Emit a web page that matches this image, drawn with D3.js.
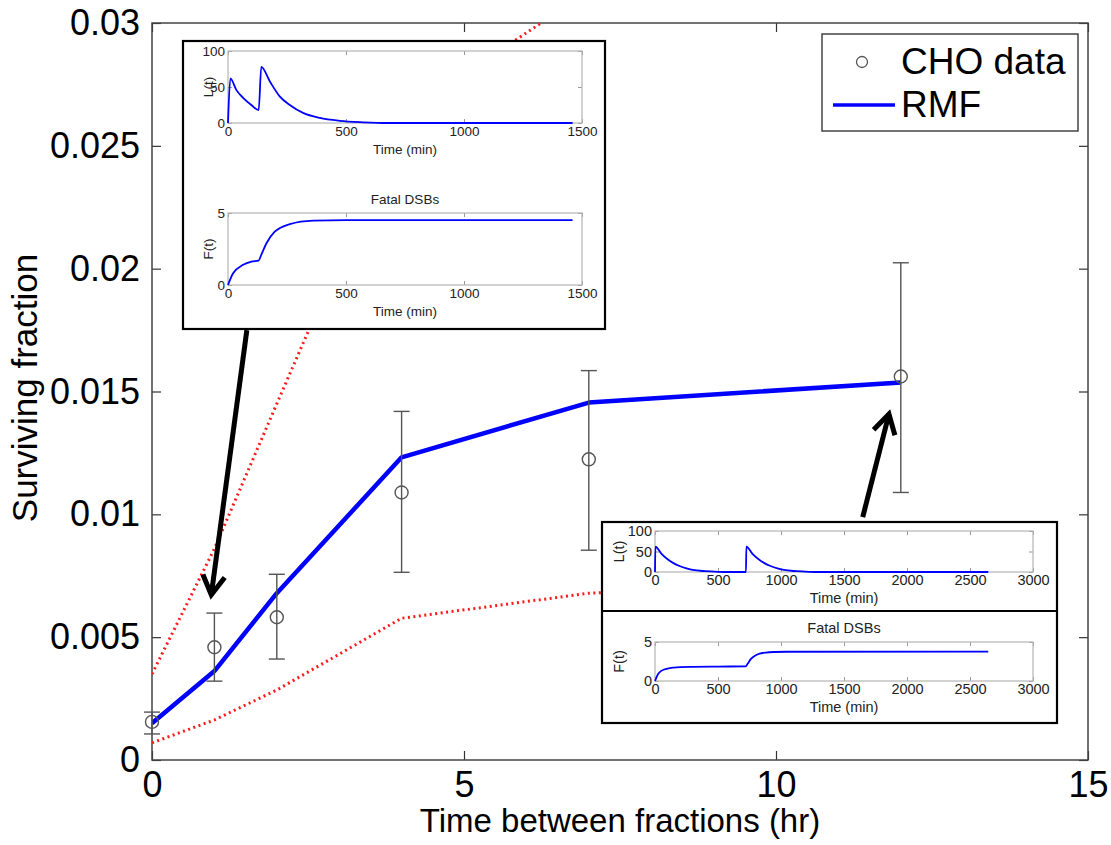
<!DOCTYPE html>
<html>
<head>
<meta charset="utf-8">
<script src="https://cdn.jsdelivr.net/npm/d3@7/dist/d3.min.js"></script>
<style>
  body { margin: 0; background: #fff; }
  svg { display: block; font-family: "Liberation Sans", Arial, Helvetica, sans-serif; }
</style>
</head>
<body>
<div id="chart"></div>
<script>
// main panel data
const hours = [0, 1, 2, 4, 7, 12];
const choSurv = [0.00155, 0.00459, 0.00581, 0.01089, 0.01224, 0.01561];
const choErrLo = [0.00106, 0.00321, 0.00411, 0.00764, 0.00854, 0.01089];
const choErrHi = [0.00195, 0.00598, 0.00756, 0.01419, 0.01585, 0.02024];
const rmf = [0.0015, 0.00362, 0.00679, 0.01232, 0.01455, 0.01537];
const rmfUpper = [0.0035, 0.0086, 0.0145, 0.0262, 0.0313, 0.034];
const rmfLower = [0.0007, 0.00163, 0.00285, 0.00577, 0.00679, 0.0072];

const xTicks = [0, 5, 10, 15];
const yTicks = [0, 0.005, 0.01, 0.015, 0.02, 0.025, 0.03];
const yTickLabels = ['0', '0.005', '0.01', '0.015', '0.02', '0.025', '0.03'];

// inset 1: fractions 2 hr apart
const inset1Time = [0, 10, 35, 64, 99, 130, 141, 177, 219, 262, 318, 389, 474, 573, 680, 1460];
const inset1L = [0, 62, 46, 35, 25, 18, 78, 58, 37, 25, 14, 7, 3, 1, 0, 0];
const inset1FTime = [0, 21, 64, 99, 130, 141, 163, 198, 262, 361, 502, 1460];
const inset1F = [0, 0.8, 1.4, 1.63, 1.7, 2.1, 2.9, 3.7, 4.23, 4.47, 4.51, 4.51];

// inset 2: fractions 12 hr apart
const inset2Time = [0, 3, 50, 100, 150, 200, 250, 300, 400, 500, 600, 722, 725, 772, 822, 872, 922, 972, 1022, 1122, 1222, 1322, 2645];
const inset2L = [0, 62, 45, 31, 21, 14, 9, 5, 2, 0.5, 0, 0, 62, 45, 31, 21, 14, 9, 5, 2, 0.5, 0, 0];
const inset2FTime = [0, 25, 50, 100, 150, 200, 300, 500, 720, 735, 760, 790, 830, 880, 950, 1050, 2645];
const inset2F = [0, 0.9, 1.3, 1.6, 1.72, 1.78, 1.82, 1.85, 1.87, 2.2, 2.8, 3.2, 3.5, 3.65, 3.72, 3.75, 3.77];

// arrows, in data coordinates [hours, fraction]
const arrowSmall = [[1.52, 0.0175], [0.95, 0.00672]];
const arrowLarge = [[11.39, 0.00989], [11.81, 0.01408]];

const width = 1111;
const height = 845;
const plot = { left: 152, right: 1088, top: 23, bottom: 760 };

const svg = d3.select('#chart')
  .append('svg')
  .attr('width', width)
  .attr('height', height);

const x = d3.scaleLinear().domain([0, 15]).range([plot.left, plot.right]);
const y = d3.scaleLinear().domain([0, 0.03]).range([plot.bottom, plot.top]);

svg.append('clipPath')
  .attr('id', 'plot-clip')
  .append('rect')
  .attr('x', plot.left)
  .attr('y', plot.top)
  .attr('width', plot.right - plot.left)
  .attr('height', plot.bottom - plot.top);

function styleAxis(g, size) {
  g.select('.domain').remove();
  g.selectAll('.tick line').attr('stroke', '#333').attr('stroke-width', 1.2);
  g.selectAll('.tick text')
    .attr('fill', '#000')
    .attr('font-size', size)
    .attr('font-family', '"Liberation Sans", Arial, sans-serif');
}

// axes with inward ticks on all four sides
svg.append('g')
  .attr('transform', `translate(0, ${plot.bottom})`)
  .call(d3.axisBottom(x).tickValues(xTicks).tickSizeInner(-9).tickSizeOuter(0).tickPadding(11))
  .call(g => styleAxis(g, 36));

svg.append('g')
  .attr('transform', `translate(0, ${plot.top})`)
  .call(d3.axisTop(x).tickValues(xTicks).tickSizeInner(-9).tickSizeOuter(0).tickFormat(() => ''))
  .call(g => styleAxis(g, 36));

svg.append('g')
  .attr('transform', `translate(${plot.left}, 0)`)
  .call(d3.axisLeft(y).tickValues(yTicks).tickSizeInner(-9).tickSizeOuter(0).tickPadding(12)
    .tickFormat((d, i) => yTickLabels[i]))
  .call(g => styleAxis(g, 36));

svg.append('g')
  .attr('transform', `translate(${plot.right}, 0)`)
  .call(d3.axisRight(y).tickValues(yTicks).tickSizeInner(-9).tickSizeOuter(0).tickFormat(() => ''))
  .call(g => styleAxis(g, 36));

svg.append('rect')
  .attr('x', plot.left)
  .attr('y', plot.top)
  .attr('width', plot.right - plot.left)
  .attr('height', plot.bottom - plot.top)
  .attr('fill', 'none')
  .attr('stroke', '#444')
  .attr('stroke-width', 1.5);

svg.append('text')
  .attr('x', (plot.left + plot.right) / 2)
  .attr('y', 832)
  .attr('text-anchor', 'middle')
  .attr('font-size', 33)
  .text('Time between fractions (hr)');

svg.append('text')
  .attr('transform', 'translate(37, 388) rotate(-90)')
  .attr('text-anchor', 'middle')
  .attr('font-size', 35)
  .text('Surviving fraction');

// model band and fit
const line = d3.line()
  .x((d, i) => x(hours[i]))
  .y(d => y(d));

const plotArea = svg.append('g').attr('clip-path', 'url(#plot-clip)');

[rmfUpper, rmfLower].forEach(series => {
  plotArea.append('path')
    .datum(series)
    .attr('d', line)
    .attr('fill', 'none')
    .attr('stroke', '#ff1a1a')
    .attr('stroke-width', 3)
    .attr('stroke-dasharray', '2,3.5');
});

plotArea.append('path')
  .datum(rmf)
  .attr('d', line)
  .attr('fill', 'none')
  .attr('stroke', '#0000ff')
  .attr('stroke-width', 4.5)
  .attr('stroke-linejoin', 'round');

// CHO data with error bars
const bars = svg.append('g')
  .attr('stroke', '#555')
  .attr('stroke-width', 1.4)
  .attr('fill', 'none');

hours.forEach((h, i) => {
  const cx = x(h);
  bars.append('line').attr('x1', cx).attr('x2', cx).attr('y1', y(choErrLo[i])).attr('y2', y(choErrHi[i]));
  bars.append('line').attr('x1', cx - 8).attr('x2', cx + 8).attr('y1', y(choErrLo[i])).attr('y2', y(choErrLo[i]));
  bars.append('line').attr('x1', cx - 8).attr('x2', cx + 8).attr('y1', y(choErrHi[i])).attr('y2', y(choErrHi[i]));
  bars.append('circle').attr('cx', cx).attr('cy', y(choSurv[i])).attr('r', 6.5);
});

// insets
function drawInset(box, separator, panels) {
  const g = svg.append('g');
  g.append('rect')
    .attr('x', box.x0).attr('y', box.y0)
    .attr('width', box.x1 - box.x0).attr('height', box.y1 - box.y0)
    .attr('fill', '#fff')
    .attr('stroke', '#000')
    .attr('stroke-width', 2.2);
  if (separator) {
    g.append('line')
      .attr('x1', box.x0).attr('x2', box.x1)
      .attr('y1', separator).attr('y2', separator)
      .attr('stroke', '#000').attr('stroke-width', 2.2);
  }

  panels.forEach(p => {
    const sx = d3.scaleLinear().domain(p.xDomain).range([p.x0, p.x1]);
    const sy = d3.scaleLinear().domain(p.yDomain).range([p.y1, p.y0]);
    const fmt = d3.format('d');
    const inStyle = a => {
      a.select('.domain').remove();
      a.selectAll('.tick line').attr('stroke', '#999');
      a.selectAll('.tick text')
        .attr('fill', '#222')
        .attr('font-size', p.fontSize)
        .attr('font-family', '"Liberation Sans", Arial, sans-serif');
    };

    g.append('g').attr('transform', `translate(0, ${p.y1})`)
      .call(d3.axisBottom(sx).tickValues(p.xTicks).tickFormat(fmt).tickSizeInner(-4).tickSizeOuter(0).tickPadding(3))
      .call(inStyle);
    g.append('g').attr('transform', `translate(0, ${p.y0})`)
      .call(d3.axisTop(sx).tickValues(p.xTicks).tickSizeInner(-4).tickSizeOuter(0).tickFormat(() => ''))
      .call(inStyle);
    g.append('g').attr('transform', `translate(${p.x0}, 0)`)
      .call(d3.axisLeft(sy).tickValues(p.yTicks).tickFormat(fmt).tickSizeInner(-4).tickSizeOuter(0).tickPadding(3))
      .call(inStyle);
    g.append('g').attr('transform', `translate(${p.x1}, 0)`)
      .call(d3.axisRight(sy).tickValues(p.yTicks).tickSizeInner(-4).tickSizeOuter(0).tickFormat(() => ''))
      .call(inStyle);

    g.append('rect')
      .attr('x', p.x0).attr('y', p.y0)
      .attr('width', p.x1 - p.x0).attr('height', p.y1 - p.y0)
      .attr('fill', 'none')
      .attr('stroke', '#b5b5b5')
      .attr('stroke-width', 1.2);

    g.append('path')
      .datum(p.values)
      .attr('d', d3.line()
        .curve(d3.curveMonotoneX)
        .x((d, i) => sx(p.time[i]))
        .y(d => sy(d)))
      .attr('fill', 'none')
      .attr('stroke', '#0000ff')
      .attr('stroke-width', 1.8);

    g.append('text')
      .attr('x', (p.x0 + p.x1) / 2)
      .attr('y', p.y1 + p.xLabelOffset)
      .attr('text-anchor', 'middle')
      .attr('font-size', p.fontSize)
      .attr('fill', '#222')
      .text('Time (min)');

    g.append('text')
      .attr('transform', `translate(${p.yLabelX}, ${(p.y0 + p.y1) / 2}) rotate(-90)`)
      .attr('text-anchor', 'middle')
      .attr('dy', '0.35em')
      .attr('font-size', p.fontSize)
      .attr('fill', '#222')
      .text(p.yLabel);

    if (p.title) {
      g.append('text')
        .attr('x', (p.x0 + p.x1) / 2)
        .attr('y', p.y0 - 9)
        .attr('text-anchor', 'middle')
        .attr('font-size', p.fontSize)
        .attr('fill', '#222')
        .text(p.title);
    }
  });
}

drawInset({ x0: 183, y0: 41, x1: 605, y1: 329 }, null, [
  {
    x0: 228, x1: 582, y0: 51, y1: 123, xDomain: [0, 1500], yDomain: [0, 100],
    xTicks: [0, 500, 1000, 1500], yTicks: [0, 50, 100],
    time: inset1Time, values: inset1L, yLabel: 'L(t)', yLabelX: 208,
    fontSize: 13.5, xLabelOffset: 31,
  },
  {
    x0: 228, x1: 582, y0: 213, y1: 285, xDomain: [0, 1500], yDomain: [0, 5],
    xTicks: [0, 500, 1000, 1500], yTicks: [0, 5],
    time: inset1FTime, values: inset1F, yLabel: 'F(t)', yLabelX: 208,
    fontSize: 13.5, xLabelOffset: 31, title: 'Fatal DSBs',
  },
]);

drawInset({ x0: 602, y0: 522, x1: 1057, y1: 723 }, 611, [
  {
    x0: 655, x1: 1033, y0: 531, y1: 572, xDomain: [0, 3000], yDomain: [0, 100],
    xTicks: [0, 500, 1000, 1500, 2000, 2500, 3000], yTicks: [0, 50, 100],
    time: inset2Time, values: inset2L, yLabel: 'L(t)', yLabelX: 619,
    fontSize: 14.5, xLabelOffset: 31,
  },
  {
    x0: 655, x1: 1033, y0: 642, y1: 681, xDomain: [0, 3000], yDomain: [0, 5],
    xTicks: [0, 500, 1000, 1500, 2000, 2500, 3000], yTicks: [0, 5],
    time: inset2FTime, values: inset2F, yLabel: 'F(t)', yLabelX: 619,
    fontSize: 14.5, xLabelOffset: 31, title: 'Fatal DSBs',
  },
]);

// arrows pointing from the insets to their data points
function drawArrow(points) {
  const [p0, p1] = points.map(d => [x(d[0]), y(d[1])]);
  const angle = Math.atan2(p1[1] - p0[1], p1[0] - p0[0]);
  const head = 22;
  const spread = Math.PI / 6;
  const wing = s => [
    p1[0] - head * Math.cos(angle + s),
    p1[1] - head * Math.sin(angle + s),
  ];
  const g = svg.append('g')
    .attr('fill', 'none')
    .attr('stroke', '#000')
    .attr('stroke-width', 5)
    .attr('stroke-linecap', 'butt')
    .attr('stroke-linejoin', 'miter');
  g.append('path').attr('d', d3.line()([p0, p1]));
  g.append('path').attr('d', d3.line()([wing(spread), p1, wing(-spread)]));
}

drawArrow(arrowSmall);
drawArrow(arrowLarge);

// legend
const legend = svg.append('g');
legend.append('rect')
  .attr('x', 822).attr('y', 34)
  .attr('width', 256).attr('height', 97)
  .attr('fill', '#fff')
  .attr('stroke', '#444')
  .attr('stroke-width', 1.5);
legend.append('circle')
  .attr('cx', 862).attr('cy', 62).attr('r', 5.5)
  .attr('fill', 'none').attr('stroke', '#555').attr('stroke-width', 1.3);
legend.append('line')
  .attr('x1', 833).attr('x2', 895).attr('y1', 105).attr('y2', 105)
  .attr('stroke', '#0000ff').attr('stroke-width', 3.5);
legend.append('text').attr('x', 901).attr('y', 74).attr('font-size', 37).text('CHO data');
legend.append('text').attr('x', 901).attr('y', 117).attr('font-size', 37).text('RMF');
</script>
</body>
</html>
